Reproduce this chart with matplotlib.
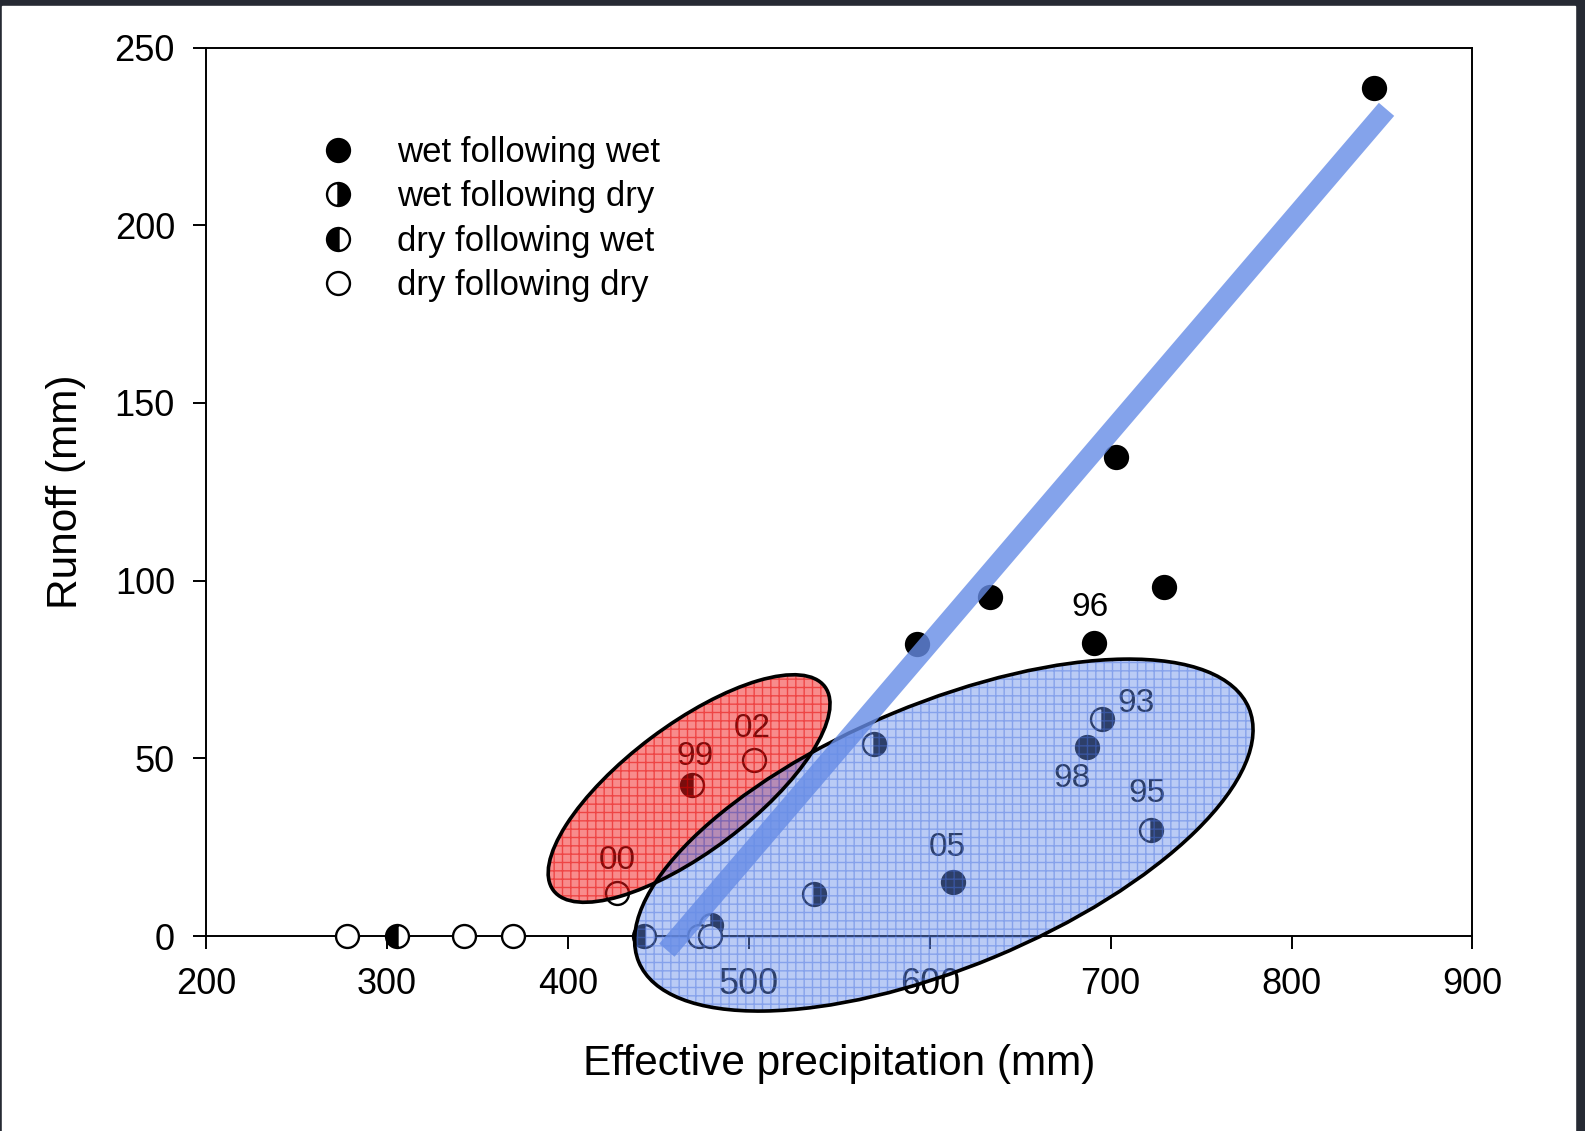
import matplotlib
matplotlib.use("Agg")
import matplotlib.pyplot as plt
from matplotlib.patches import Ellipse, Rectangle
from matplotlib.transforms import ScaledTranslation

plt.rcParams['font.family'] = ['Liberation Sans', 'DejaVu Sans']
plt.rcParams['hatch.linewidth'] = 1.0

## runoff vs effective precipitation, one list pair per class of year
ww_x = [845.8, 702.8, 729.6, 633.5, 592.7, 690.8, 687.0, 612.8]   # wet following wet
ww_y = [238.6, 134.8, 98.1, 95.3, 82.2, 82.4, 53.3, 15.1]
wd_x = [695.0, 722.5, 569.3, 536.3, 479.0]                        # wet following dry
wd_y = [61.1, 29.8, 54.0, 11.7, 3.0]
dw_x = [305.6, 441.9, 468.7]                                      # dry following wet
dw_y = [0.0, 0.0, 42.4]
dd_x = [277.7, 342.5, 369.8, 427.4, 502.8, 472.6, 478.8]          # dry following dry
dd_y = [0.0, 0.0, 0.0, 12.2, 49.5, 0.0, 0.0]

## labelled years
year_labels = ['96', '93', '98', '95', '05', '99', '02', '00']
year_x = [690.8, 695.0, 687.0, 722.5, 612.8, 468.7, 502.8, 427.4]
year_y = [82.4, 61.1, 53.3, 29.8, 15.1, 42.4, 49.5, 12.2]

## fitted line end points
fit_x = [454.7, 852.5]
fit_y = [-4.0, 232.6]

legend_names = ['wet following wet', 'wet following dry',
                'dry following wet', 'dry following dry']

fig = plt.figure(figsize=(15.85, 11.31), dpi=100, facecolor='#262a33')
fig.patches.append(Rectangle((2 / 1585, 0), 1573 / 1585, 1125 / 1131,
                             transform=fig.transFigure, color='white', zorder=-10))
ax = fig.add_axes([0.130, 0.1724, 0.799, 0.7856])
ax.set_facecolor('none')

ms = 16.5
kw = dict(linestyle='none', marker='o', markersize=ms, markeredgecolor='black',
          markeredgewidth=1.7, clip_on=False, zorder=2.7)
ax.plot(ww_x, ww_y, markerfacecolor='black', **kw)
ax.plot(wd_x, wd_y, fillstyle='right', markerfacecolor='black',
        markerfacecoloralt='white', **kw)
ax.plot(dw_x, dw_y, fillstyle='left', markerfacecolor='black',
        markerfacecoloralt='white', **kw)
ax.plot(dd_x, dd_y, markerfacecolor='white', **kw)

## year numbers, offsets in points from each marker
offsets = [(-3, 26), (25, 11), (-11, -23), (-3, 26), (-4, 25), (2, 21), (-1, 23), (0, 23)]
for lab, x, y, off in zip(year_labels, year_x, year_y, offsets):
    ax.annotate(lab, (x, y), xytext=off, textcoords='offset points',
                ha='center', va='center', fontsize=24, zorder=2.8)

## legend drawn by hand
for i, name in enumerate(legend_names):
    yy = 0.885 - 0.05 * i
    style = [dict(markerfacecolor='black'),
             dict(fillstyle='right', markerfacecolor='black', markerfacecoloralt='white'),
             dict(fillstyle='left', markerfacecolor='black', markerfacecoloralt='white'),
             dict(markerfacecolor='white')][i]
    ax.plot([0.1045], [yy], transform=ax.transAxes, linestyle='none', marker='o',
            markersize=ms, markeredgecolor='black', markeredgewidth=1.7, **style)
    ax.text(0.1506, yy - 0.003, name, transform=ax.transAxes, fontsize=25,
            va='center', ha='left')

## shaded ellipses, sizes in inches around a data centre
def blob(xc, yc, w, h, ang, face, hatch_col):
    tr = fig.dpi_scale_trans + ScaledTranslation(xc, yc, ax.transData)
    ax.add_patch(Ellipse((0, 0), w, h, angle=ang, transform=tr, facecolor=face,
                         edgecolor=hatch_col, linewidth=0, hatch='++',
                         clip_on=False, zorder=3))
    ax.add_patch(Ellipse((0, 0), w, h, angle=ang, transform=tr, fill=False,
                         edgecolor='black', linewidth=2.6, clip_on=False, zorder=3.1))

blob(467.0, 41.5, 3.394, 1.266, 36.9, (0.95, 0.10, 0.10, 0.50), (0.90, 0.0, 0.0, 0.50))
blob(607.8, 28.4, 6.608, 2.640, 22.6, (0.40, 0.55, 0.92, 0.45), (0.28, 0.44, 0.88, 0.45))

ax.plot(fit_x, fit_y, color=(0.40, 0.55, 0.90), alpha=0.8, linewidth=14.5,
        solid_capstyle='butt', clip_on=False, zorder=3.5)

ax.set_xlim(200, 900)
ax.set_ylim(0, 250)
ax.set_xticks(range(200, 901, 100))
ax.set_yticks(range(0, 251, 50))
ax.tick_params(direction='out', length=9.4, width=1.4, labelsize=26,
               top=False, right=False)
ax.tick_params(axis='y', pad=13)
ax.tick_params(axis='x', pad=13)
for s in ax.spines.values():
    s.set_linewidth(1.4)

ax.set_xlabel('Effective precipitation (mm)', fontsize=30.5)
ax.set_ylabel('Runoff (mm)', fontsize=30.5)
ax.xaxis.set_label_coords(0.5, -0.121)
ax.yaxis.set_label_coords(-0.095, 0.5)

fig.savefig('out.png', dpi=100, facecolor=fig.get_facecolor())
